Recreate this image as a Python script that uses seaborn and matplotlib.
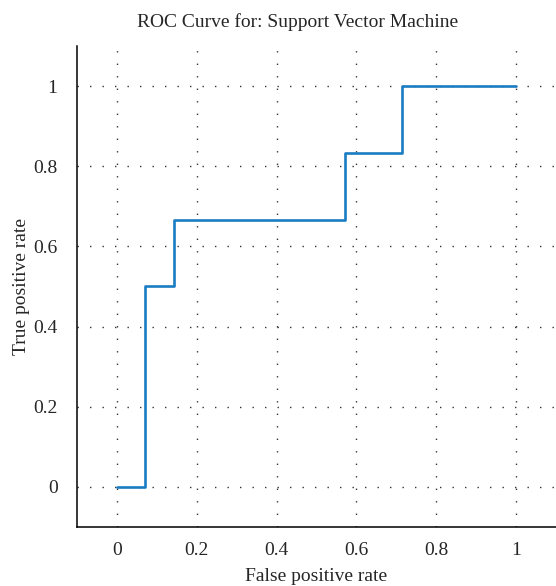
import pandas as pd
import matplotlib
matplotlib.use('Agg')
import matplotlib.pyplot as plt
import seaborn as sns

# Pontos da curva ROC
fpr = [0, 0.0714, 0.1429, 0.5714, 0.7143, 1.0]
tpr = [0, 0.5, 0.6667, 0.8333, 1.0, 1.0]
ticks = [0, 0.2, 0.4, 0.6, 0.8, 1]
tick_labels = ['0', '0.2', '0.4', '0.6', '0.8', '1']

roc = pd.DataFrame({'fpr': fpr, 'tpr': tpr})

sns.set_style('white')
plt.rcParams['font.family'] = ['Liberation Serif', 'DejaVu Serif']

fig = plt.figure(figsize=(5.56, 5.86), dpi=100)
ax = fig.add_axes([0.1385, 0.1007, 0.8615, 0.8208])

sns.lineplot(data=roc, x='fpr', y='tpr', ax=ax, estimator=None, sort=False,
             drawstyle='steps-post', color='#1a7cc2', linewidth=1.9)

ax.set_xlim(-0.1, 1.1)
ax.set_ylim(-0.1, 1.1)
ax.set_xticks(ticks)
ax.set_xticklabels(tick_labels)
ax.set_yticks(ticks)
ax.set_yticklabels(tick_labels)
ax.grid(True, linestyle=(0, (1, 8)), color='#333333', linewidth=1.0)
ax.tick_params(axis='both', direction='in', length=2.5, width=0.8, labelsize=14)
ax.tick_params(axis='x', pad=11)
ax.tick_params(axis='y', pad=14)

for s in ['top', 'right']:
    ax.spines[s].set_visible(False)
for s in ['left', 'bottom']:
    ax.spines[s].set_color('black')
    ax.spines[s].set_linewidth(1.1)

ax.set_title('ROC Curve for: Support Vector Machine', fontsize=14, pad=14, x=0.46)
ax.set_xlabel('False positive rate', fontsize=14, labelpad=6)
ax.set_ylabel('True positive rate', fontsize=14, labelpad=2)

fig.savefig('out.png', dpi=100)
